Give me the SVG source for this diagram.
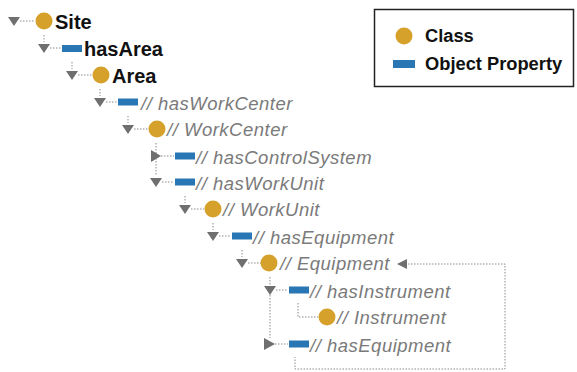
<svg xmlns="http://www.w3.org/2000/svg" width="577" height="372" viewBox="0 0 577 372">
<style>
.cls{fill:#D6A12B}
.prop{fill:#2877B4}
.tri{fill:#6F6F6F}
.dot{stroke:#8A8A8A;stroke-width:1;stroke-dasharray:1.5 1.5;fill:none}
.b{font-family:"Liberation Sans",Arial,sans-serif;font-weight:bold;font-size:20px;fill:#111}
.i{font-family:"Liberation Sans",Arial,sans-serif;font-style:italic;font-size:18.5px;letter-spacing:0.5px;fill:#7A7A7A}
.lg{font-family:"Liberation Sans",Arial,sans-serif;font-weight:bold;font-size:18.3px;fill:#111}
</style>
<rect width="577" height="372" fill="#fff"/>
<g id="connectors">
  <path class="dot" d="M20 21H35"/>
  <path class="dot" d="M44 35V42M50 48H62"/>
  <path class="dot" d="M72 62V69M78 75H92"/>
  <path class="dot" d="M100 89V96M106 102H118"/>
  <path class="dot" d="M128 116V123M134 129H148"/>
  <path class="dot" d="M156 143V176M161 156H174M162 182H174"/>
  <path class="dot" d="M185 196V203M191 209H204"/>
  <path class="dot" d="M213 223V230M219 236H231"/>
  <path class="dot" d="M242 250V257M248 263H261"/>
  <path class="dot" d="M270 277V338M276 290H288M275 344H288"/>
  <path class="dot" d="M298 303V317H318"/>
  <path class="dot" d="M408 264H505V369H295V357"/>
  <polygon class="tri" points="397,264 407,259 407,269"/>
</g>
<g id="n-site"><polygon class="tri" points="8,17 20,17 14,26"/><circle class="cls" cx="44" cy="21" r="8.5"/><text class="b" x="55" y="28.5">Site</text></g>
<g id="n-hasArea"><polygon class="tri" points="38,44 50,44 44,53"/><rect class="prop" x="62" y="45" width="20" height="7"/><text class="b" x="84" y="55.5">hasArea</text></g>
<g id="n-area"><polygon class="tri" points="66,71 78,71 72,80"/><circle class="cls" cx="101" cy="75" r="8.5"/><text class="b" x="112" y="82.5">Area</text></g>
<g id="n-hasWorkCenter"><polygon class="tri" points="94,98 106,98 100,107"/><rect class="prop" x="118" y="98.5" width="20" height="7"/><text class="i" x="141" y="109.5">// hasWorkCenter</text></g>
<g id="n-workCenter"><polygon class="tri" points="122,125 134,125 128,134"/><circle class="cls" cx="157" cy="129" r="8.5"/><text class="i" x="167" y="136">// WorkCenter</text></g>
<g id="n-hasControlSystem"><polygon class="tri" points="151,150 151,162 161,156"/><rect class="prop" x="175" y="152.5" width="20" height="7"/><text class="i" x="196" y="163.5">// hasControlSystem</text></g>
<g id="n-hasWorkUnit"><polygon class="tri" points="150,178 162,178 156,187"/><rect class="prop" x="175" y="178.5" width="20" height="7"/><text class="i" x="196" y="189.5">// hasWorkUnit</text></g>
<g id="n-workUnit"><polygon class="tri" points="179,205 191,205 185,214"/><circle class="cls" cx="213" cy="209" r="8.5"/><text class="i" x="223" y="216">// WorkUnit</text></g>
<g id="n-hasEquipment1"><polygon class="tri" points="207,232 219,232 213,241"/><rect class="prop" x="232" y="232.5" width="20" height="7"/><text class="i" x="253" y="243.5">// hasEquipment</text></g>
<g id="n-equipment"><polygon class="tri" points="236,259 248,259 242,268"/><circle class="cls" cx="269" cy="263" r="8.5"/><text class="i" x="280" y="270">// Equipment</text></g>
<g id="n-hasInstrument"><polygon class="tri" points="264,286 276,286 270,295"/><rect class="prop" x="289" y="286.5" width="20" height="7"/><text class="i" x="310" y="297.5">// hasInstrument</text></g>
<g id="n-instrument"><circle class="cls" cx="327" cy="317" r="8.5"/><text class="i" x="337" y="324">// Instrument</text></g>
<g id="n-hasEquipment2"><polygon class="tri" points="264,338 264,350 275,344"/><rect class="prop" x="289" y="340.5" width="20" height="7"/><text class="i" x="310" y="351.5">// hasEquipment</text></g>
<g id="legend">
  <rect x="374.5" y="9.5" width="199" height="77" fill="#fff" stroke="#222" stroke-width="1.5"/>
  <circle class="cls" cx="404" cy="36" r="8.5"/>
  <text class="lg" x="425" y="42">Class</text>
  <rect class="prop" x="393" y="60" width="22" height="8"/>
  <text class="lg" x="425" y="70">Object Property</text>
</g>
</svg>
